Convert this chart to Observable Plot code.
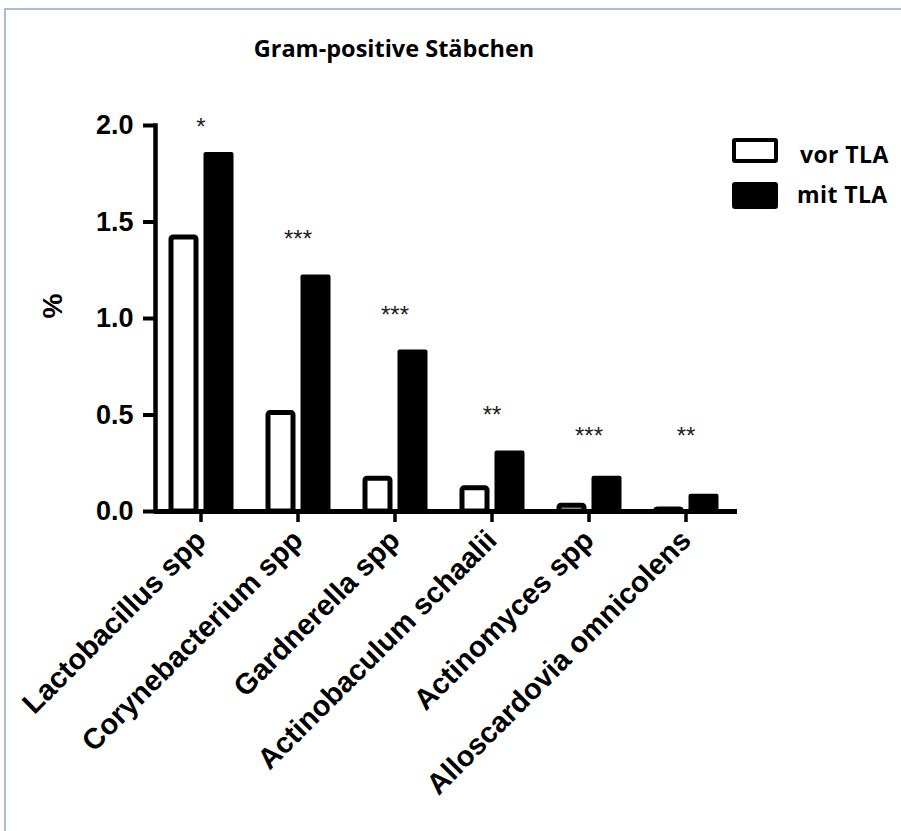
<!DOCTYPE html>
<html>
<head>
<meta charset="utf-8">
<script src="https://cdn.jsdelivr.net/npm/d3@7"></script>
<script src="https://cdn.jsdelivr.net/npm/@observablehq/plot@0.6"></script>
<style>
  html, body { margin: 0; padding: 0; background: #fff; }
  #wrap { position: relative; width: 901px; height: 831px; overflow: hidden; background: #fff; }
  #border { position: absolute; left: 4px; top: 8px; width: 920px; height: 850px; box-sizing: border-box;
            border-top: 2px solid #a9bed3; border-left: 2px solid #a9bed3; }
  #chart { position: absolute; left: 0; top: 0; }
  .t { position: absolute; font-family: "Open Sans", "Noto Sans", sans-serif; font-weight: 700; line-height: 1; color: #000; white-space: nowrap; }
  #title { left: 0; width: 788px; top: 37px; text-align: center; font-size: 23.5px; }
  .sw { position: absolute; box-sizing: border-box; border-radius: 3px; }
</style>
</head>
<body>
<div id="wrap">
  <div id="border"></div>
  <div id="chart"></div>
  <div id="title" class="t"></div>
  <div id="legend"></div>
</div>
<script>
// ---- data ----
const chartTitle = "Gram-positive Stäbchen";
const yLabel = "%";
const categories = ["Lactobacillus spp", "Corynebacterium spp", "Gardnerella spp",
                    "Actinobaculum schaalii", "Actinomyces spp", "Alloscardovia omnicolens"];
const seriesNames = ["vor TLA", "mit TLA"];
const vorTLA = [1.42, 0.51, 0.17, 0.12, 0.03, 0.01];
const mitTLA = [1.86, 1.225, 0.837, 0.313, 0.182, 0.089];
const sigLabels = ["*", "***", "***", "**", "***", "**"];
const sigY = [2.02, 1.44, 1.05, 0.53, 0.42, 0.42];
const yTicks = [0, 0.5, 1.0, 1.5, 2.0];

// ---- tables ----
const vorData = categories.map((c, i) => ({cat: c, value: vorTLA[i]}));
const mitData = categories.map((c, i) => ({cat: c, value: mitTLA[i]}));
const sigData = categories.map((c, i) => ({cat: c, y: sigY[i], label: sigLabels[i]}));

const chart = Plot.plot({
  width: 901,
  height: 831,
  marginLeft: 155,
  marginRight: 164,
  marginTop: 125,
  marginBottom: 320,
  style: {background: "transparent", fontFamily: "'Liberation Sans', Arial, sans-serif", color: "#000", overflow: "visible"},
  x: {domain: categories, range: [152, 734], padding: 0},
  y: {domain: [0, 2], range: [511, 125]},
  marks: [
    Plot.barY(vorData, {x: "cat", y: "value", fill: "white", stroke: "black", strokeWidth: 5,
                        insetLeft: 19, insetRight: 53, rx: 2}),
    Plot.barY(mitData, {x: "cat", y: "value", fill: "black", insetLeft: 51.5, insetRight: 15.5, rx: 2}),
    Plot.text(sigData, {x: "cat", y: "y", text: "label", fontSize: 24, dy: 6, fill: "#222"}),
    Plot.ruleY([0], {strokeWidth: 5}),
    Plot.frame({anchor: "left", strokeWidth: 4.5}),
    Plot.axisY({ticks: yTicks, tickFormat: d3.format(".1f"), tickSize: 12, tickPadding: 10,
                strokeWidth: 4, fontSize: 27, fontWeight: "bold", label: null}),
    Plot.axisX({tickRotate: -45, tickSize: 11, tickPadding: 13, strokeWidth: 3.5,
                fontSize: 29, fontWeight: "bold", label: null}),
    Plot.text([yLabel], {frameAnchor: "left", rotate: -90, dx: -102, fontSize: 28, fontWeight: "bold"})
  ]
});
document.getElementById("chart").appendChild(chart);

document.getElementById("title").textContent = chartTitle;

// legend
const legend = document.getElementById("legend");
const legendSpec = [
  {name: seriesNames[0], box: "left:732px;top:138px;width:46px;height:25px;border:4px solid #000;background:#fff;", text: "left:800px;top:142.5px;"},
  {name: seriesNames[1], box: "left:732px;top:182px;width:46px;height:27px;background:#000;", text: "left:797px;top:182.5px;"}
];
legendSpec.forEach(s => {
  const b = document.createElement("div");
  b.className = "sw"; b.style.cssText = s.box;
  legend.appendChild(b);
  const t = document.createElement("div");
  t.className = "t"; t.style.cssText = s.text + "font-size:23px;letter-spacing:0.4px;";
  t.textContent = s.name;
  legend.appendChild(t);
});
</script>
</body>
</html>
